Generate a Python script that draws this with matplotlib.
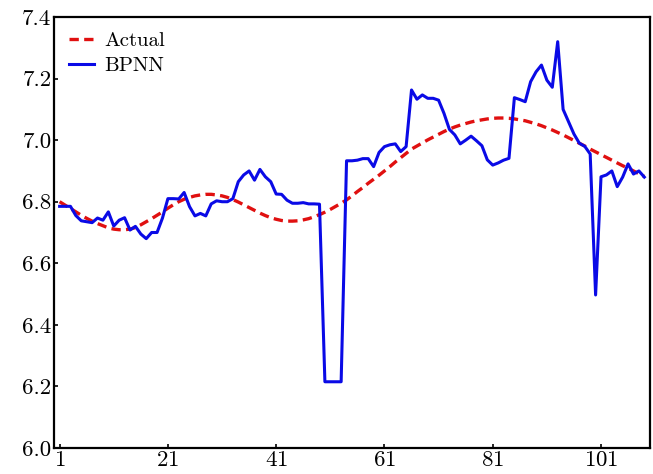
import numpy as np
import matplotlib
matplotlib.use("Agg")
import matplotlib.pyplot as plt

plt.rcParams['font.family'] = ['cmr10', 'DejaVu Serif']
plt.rcParams['axes.formatter.use_mathtext'] = True

actual = [
    6.800, 6.789, 6.778, 6.767, 6.756, 6.746, 6.737, 6.729, 6.722, 6.715,
    6.711, 6.709, 6.709, 6.711, 6.716, 6.725, 6.735, 6.745, 6.756, 6.767,
    6.779, 6.790, 6.800, 6.808, 6.814, 6.819, 6.822, 6.824, 6.824, 6.822,
    6.819, 6.814, 6.807, 6.799, 6.790, 6.781, 6.772, 6.763, 6.755, 6.748,
    6.743, 6.739, 6.737, 6.737, 6.738, 6.741, 6.745, 6.751, 6.758, 6.766,
    6.775, 6.785, 6.795, 6.806, 6.819, 6.833, 6.846, 6.860, 6.873, 6.886,
    6.900, 6.914, 6.929, 6.943, 6.957, 6.971, 6.981, 6.991, 7.001, 7.010,
    7.019, 7.028, 7.036, 7.043, 7.049, 7.054, 7.059, 7.063, 7.066, 7.069,
    7.071, 7.072, 7.072, 7.071, 7.069, 7.066, 7.063, 7.058, 7.053, 7.047,
    7.040, 7.033, 7.025, 7.017, 7.008, 6.999, 6.990, 6.981, 6.971, 6.962,
    6.953, 6.944, 6.935, 6.926, 6.917, 6.909, 6.900, 6.891, 6.882,
]

bpnn = [
    6.785, 6.785, 6.785, 6.755, 6.738, 6.735, 6.732, 6.747, 6.740, 6.767,
    6.721, 6.740, 6.748, 6.708, 6.720, 6.695, 6.680, 6.700, 6.700, 6.747,
    6.810, 6.810, 6.809, 6.830, 6.784, 6.754, 6.762, 6.754, 6.793, 6.803,
    6.800, 6.800, 6.810, 6.865, 6.887, 6.900, 6.870, 6.905, 6.881, 6.865,
    6.825, 6.824, 6.805, 6.795, 6.795, 6.797, 6.793, 6.793, 6.792, 6.215,
    6.215, 6.215, 6.215, 6.933, 6.933, 6.935, 6.940, 6.940, 6.914, 6.960,
    6.979, 6.985, 6.988, 6.963, 6.979, 7.163, 7.133, 7.147, 7.136, 7.136,
    7.130, 7.087, 7.035, 7.017, 6.988, 7.000, 7.013, 6.998, 6.982, 6.936,
    6.919, 6.926, 6.935, 6.941, 7.138, 7.132, 7.125, 7.190, 7.222, 7.244,
    7.195, 7.172, 7.320, 7.100, 7.060, 7.020, 6.990, 6.980, 6.955, 6.497,
    6.881, 6.887, 6.900, 6.849, 6.880, 6.923, 6.890, 6.900, 6.880,
]

x = np.arange(1, len(actual) + 1)

fig = plt.figure(figsize=(6.53, 4.74), dpi=100)
ax = fig.add_axes([0.083, 0.055, 0.912, 0.909])

ax.plot(x, actual, color='#e01010', linestyle=(0, (2.8, 1.6)), linewidth=2.4, label='Actual')
ax.plot(x, bpnn, color='#0a0ae6', linestyle='-', linewidth=2.2, label='BPNN')

ax.set_xlim(0, 110)
ax.set_ylim(6.0, 7.4)
ax.set_xticks([1, 21, 41, 61, 81, 101])
ax.set_yticks([6.0, 6.2, 6.4, 6.6, 6.8, 7.0, 7.2, 7.4])
ax.yaxis.set_major_formatter(plt.FormatStrFormatter('%.1f'))
ax.tick_params(direction='in', length=3, width=1.2, labelsize=16.5, pad=2)

for s in ax.spines.values():
    s.set_linewidth(1.6)

# legend sits in the top-left corner without a frame
ax.legend(loc='upper left', frameon=False, fontsize=15, handlelength=1.2,
          handletextpad=0.5, labelspacing=0.3, borderaxespad=0.1,
          borderpad=0.6)

plt.savefig('out.png', dpi=100)
